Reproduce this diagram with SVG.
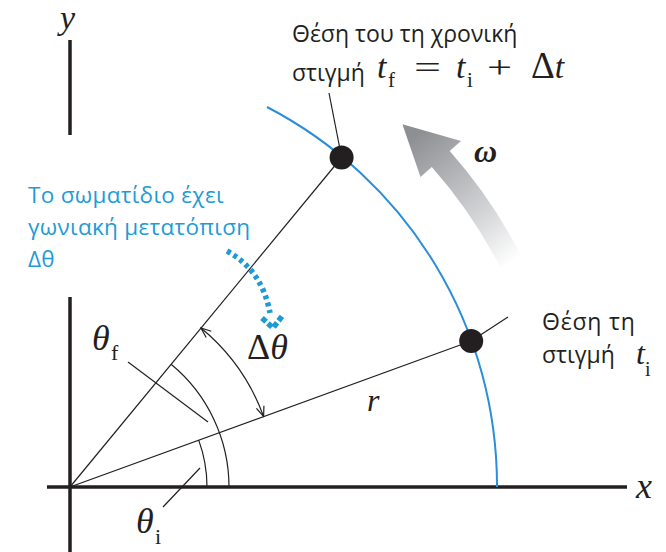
<svg xmlns="http://www.w3.org/2000/svg" width="666" height="552" viewBox="0 0 666 552">
<defs>
<style>
.ax{stroke:#231f20;stroke-width:3.5;fill:none}
.thin{stroke:#231f20;stroke-width:1.2;fill:none}
.lbl{font-family:"Open Sans","Liberation Sans",sans-serif;font-size:23px;fill:#231f20}
.blue{font-family:"Open Sans","Liberation Sans",sans-serif;font-size:22.5px;letter-spacing:0.3px;fill:#1e9bd7}
.m{font-family:"Liberation Serif",serif;font-style:italic;fill:#231f20}
.mu{font-family:"Liberation Serif",serif;fill:#231f20}
</style>
<marker id="ah" viewBox="0 0 12 10" refX="11" refY="5" markerWidth="12" markerHeight="10" markerUnits="userSpaceOnUse" orient="auto-start-reverse">
<path d="M1 1 L11 5 L1 9" fill="none" stroke="#231f20" stroke-width="1.2"/>
</marker>
<linearGradient id="gg" gradientUnits="userSpaceOnUse" x1="512" y1="262" x2="415" y2="135">
<stop offset="0" stop-color="#ffffff"/>
<stop offset="0.35" stop-color="#d4d5d7"/>
<stop offset="1" stop-color="#8e8f92"/>
</linearGradient>
</defs>
<rect width="666" height="552" fill="#ffffff"/>

<g id="axes">
<line class="ax" x1="70" y1="40" x2="70" y2="135"/>
<line class="ax" x1="70" y1="297" x2="70" y2="552"/>
<line class="ax" x1="47" y1="487" x2="627" y2="487"/>
<text class="m" x="60" y="29" font-size="34">y</text>
<text class="m" x="636" y="498" font-size="36">x</text>
</g>

<g id="omega-arrow">
<path d="M521.7 256.8 A507 507 0 0 0 449.7 151.1 L461 141.1 L402.4 124.2 L420.5 176.9 L431.8 167 A483 483 0 0 1 500.4 267.7 Z" fill="url(#gg)"/>
<text class="m" x="474" y="162" font-size="32" font-weight="bold">ω</text>
</g>

<g id="connectors">
<path d="M267 107 A427 427 0 0 1 497 487" fill="none" stroke="#2a8fd8" stroke-width="2"/>
<line class="thin" x1="70" y1="487" x2="341.6" y2="157.5"/>
<line class="thin" x1="70" y1="487" x2="471.2" y2="341"/>
<line class="thin" x1="341.6" y1="157.5" x2="329" y2="93"/>
<line class="thin" x1="471.2" y1="341" x2="508" y2="317"/>
<path class="thin" d="M207 487 A137 137 0 0 0 198.7 440.1"/>
<path class="thin" d="M229 487 A159 159 0 0 0 171.1 364.3"/>
<path class="thin" d="M263.6 416.5 A206 206 0 0 0 201 328" marker-start="url(#ah)" marker-end="url(#ah)"/>
<line class="thin" x1="128" y1="362" x2="208" y2="422"/>
<line class="thin" x1="163" y1="507" x2="200" y2="468"/>
<path d="M227 251 Q262 270 270 313" fill="none" stroke="#1e9bd7" stroke-width="5.5" stroke-dasharray="4 3.5"/>
<path d="M262 318 L273 328 L283 315" fill="none" stroke="#1e9bd7" stroke-width="5.5" stroke-dasharray="5.5 2.5"/>
</g>

<g id="particle-final">
<circle cx="341.6" cy="157.5" r="12" fill="#231f20"/>
<text class="lbl" x="292" y="42">Θέση του τη χρονική</text>
<text class="lbl" x="292" y="81">στιγμή</text>
<text class="m" x="377" y="78" font-size="34">t</text>
<text class="mu" x="388" y="87" font-size="21">f</text>
<text class="mu" x="414" y="78" font-size="32" textLength="27" lengthAdjust="spacingAndGlyphs">=</text>
<text class="m" x="456" y="78" font-size="34">t</text>
<text class="mu" x="467" y="87" font-size="21">i</text>
<text class="mu" x="487" y="78" font-size="32" textLength="25" lengthAdjust="spacingAndGlyphs">+</text>
<text class="mu" x="531" y="78" font-size="37">Δ<tspan font-style="italic" font-size="34">t</tspan></text>
</g>

<g id="particle-initial">
<circle cx="471.2" cy="341" r="12" fill="#231f20"/>
<text class="lbl" x="542" y="330" letter-spacing="0.8">Θέση τη</text>
<text class="lbl" x="542" y="363">στιγμή</text>
<text class="m" x="636" y="364" font-size="32">t</text>
<text class="mu" x="645" y="376" font-size="20">i</text>
</g>

<g id="note">
<text class="blue" x="28" y="203">Το σωματίδιο έχει</text>
<text class="blue" x="28" y="235">γωνιακή μετατόπιση</text>
<text class="blue" x="28" y="267">Δθ</text>
</g>

<g id="angles">
<text class="m" x="92" y="350" font-size="36">θ</text>
<text class="mu" x="111" y="360" font-size="22">f</text>
<text class="m" x="136" y="533" font-size="36">θ</text>
<text class="mu" x="155" y="544" font-size="22">i</text>
<text class="mu" x="247" y="359" font-size="36">Δ<tspan font-style="italic">θ</tspan></text>
<text class="m" x="367" y="411" font-size="32">r</text>
</g>
</svg>
